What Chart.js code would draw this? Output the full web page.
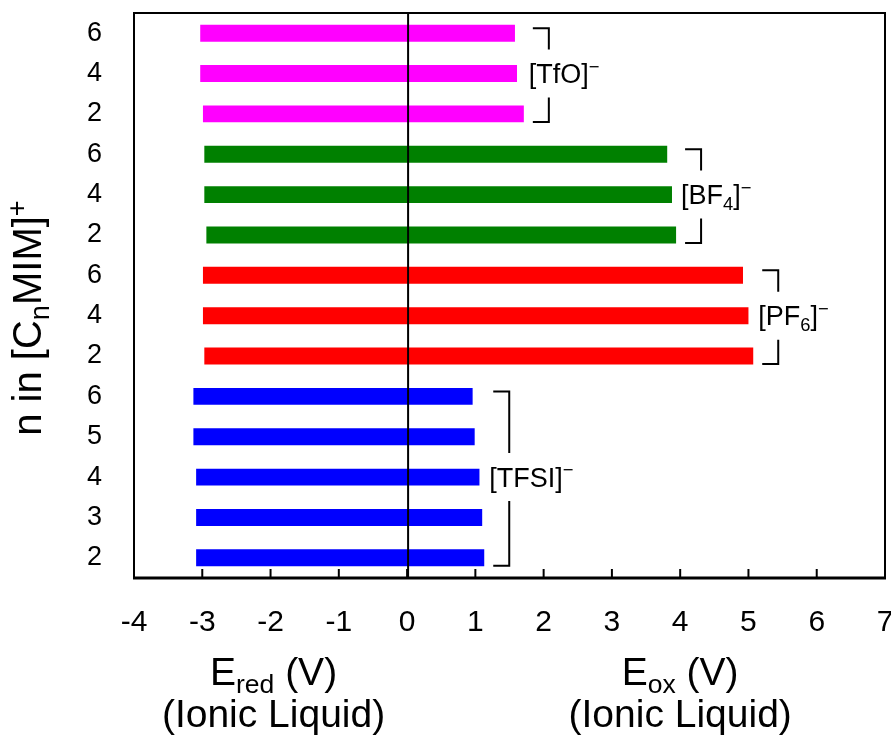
<!DOCTYPE html>
<html>
<head>
    <title>Electrochemical windows</title>
    <script src="https://cdn.jsdelivr.net/npm/chart.js"></script>
    <style>
        body {
            margin: 0;
            padding: 0;
            background: #ffffff;
        }
        #wrap {
            width: 891px;
            height: 738px;
        }
    </style>
</head>
<body>
    <div id="wrap"><canvas id="chart"></canvas></div>

    <script>
        // rows top to bottom
        const rowLabels = ['6', '4', '2', '6', '4', '2', '6', '4', '2', '6', '5', '4', '3', '2'];
        const eRed = [-3.03, -3.03, -2.99, -2.97, -2.97, -2.94, -2.99, -2.99, -2.97, -3.13, -3.13, -3.09, -3.09, -3.09];
        const eOx = [1.58, 1.61, 1.71, 3.81, 3.88, 3.94, 4.92, 5.00, 5.07, 0.96, 0.99, 1.06, 1.10, 1.13];

        const anionNames = ['TfO', 'BF4', 'PF6', 'TFSI'];
        const anionRows = [3, 3, 3, 5];
        const anionLabelParts = [
            [['[TfO]', 'n'], ['\u2212', 'sup']],
            [['[BF', 'n'], ['4', 'sub'], [']', 'n'], ['\u2212', 'sup']],
            [['[PF', 'n'], ['6', 'sub'], [']', 'n'], ['\u2212', 'sup']],
            [['[TFSI]', 'n'], ['\u2212', 'sup']]
        ];
        const xTickValues = [-4, -3, -2, -1, 0, 1, 2, 3, 4, 5, 6, 7];

        const anionColors = ['#ff00ff', '#008000', '#ff0000', '#0000ff'];
        const FONT = "'Liberation Sans', Arial, sans-serif";

        const rowGroup = [];
        anionRows.forEach((n, g) => { for (let i = 0; i < n; i++) rowGroup.push(g); });

        function drawRich(ctx, parts, x, y, size, align) {
            const spec = kind => {
                if (kind === 'sub') return { s: size * 0.68, dy: size * 0.2 };
                if (kind === 'sup') return { s: size * 0.68, dy: -size * 0.38 };
                return { s: size, dy: 0 };
            };
            let total = 0;
            parts.forEach(([t, k]) => {
                ctx.font = spec(k).s + 'px ' + FONT;
                total += ctx.measureText(t).width;
            });
            let cx = align === 'center' ? x - total / 2 : x;
            ctx.textAlign = 'left';
            ctx.textBaseline = 'alphabetic';
            parts.forEach(([t, k]) => {
                const sp = spec(k);
                ctx.font = sp.s + 'px ' + FONT;
                ctx.fillText(t, cx, y + sp.dy);
                cx += ctx.measureText(t).width;
            });
        }

        const decorations = {
            id: 'decorations',
            afterDatasetsDraw(chart) {
                const ctx = chart.ctx;
                const { left, right, top, bottom } = chart.chartArea;
                const x = chart.scales.x, y = chart.scales.y;
                ctx.save();
                ctx.strokeStyle = '#000';
                // zero line over the bars
                ctx.lineWidth = 2;
                const x0 = x.getPixelForValue(0) + 1;
                ctx.beginPath();
                ctx.moveTo(x0, top);
                ctx.lineTo(x0, bottom);
                ctx.stroke();
                // frame
                ctx.lineWidth = 2;
                ctx.strokeRect(left, top, right - left, bottom - top);
                ctx.lineWidth = 3;
                ctx.beginPath();
                ctx.moveTo(left - 1, bottom);
                ctx.lineTo(right + 1, bottom);
                ctx.stroke();
                // inside tick marks
                ctx.lineWidth = 2;
                xTickValues.forEach(v => {
                    const px = x.getPixelForValue(v);
                    ctx.beginPath();
                    ctx.moveTo(px, bottom);
                    ctx.lineTo(px, bottom - 9);
                    ctx.stroke();
                });
                // anion brackets
                let start = 0;
                anionRows.forEach((n, g) => {
                    const end = start + n - 1;
                    const maxOx = Math.max(...eOx.slice(start, end + 1));
                    const bx = x.getPixelForValue(maxOx) + 25;
                    const y1 = y.getPixelForValue(start) - 5;
                    const y2 = y.getPixelForValue(end) + 8;
                    const yc = (y.getPixelForValue(start) + y.getPixelForValue(end)) / 2;
                    ctx.lineWidth = 2;
                    ctx.beginPath();
                    ctx.moveTo(bx - 16, y1);
                    ctx.lineTo(bx, y1);
                    ctx.lineTo(bx, yc - 24);
                    ctx.moveTo(bx, yc + 24);
                    ctx.lineTo(bx, y2);
                    ctx.lineTo(bx - 16, y2);
                    ctx.stroke();
                    ctx.fillStyle = '#000';
                    drawRich(ctx, anionLabelParts[g], bx - 20, yc + 9.5, 27, 'left');
                    start = end + 1;
                });
                ctx.restore();
            },
            afterDraw(chart) {
                const ctx = chart.ctx;
                const x = chart.scales.x;
                ctx.save();
                ctx.fillStyle = '#000';
                // y title
                ctx.translate(41, 318);
                ctx.rotate(-Math.PI / 2);
                drawRich(ctx, [['n in [C', 'n'], ['n', 'sub'], ['MIM]', 'n'], ['+', 'sup']], 0, 0, 40, 'center');
                ctx.restore();
                ctx.save();
                ctx.fillStyle = '#000';
                const xr = x.getPixelForValue(-2) + 3, xo = x.getPixelForValue(4);
                drawRich(ctx, [['E', 'n'], ['red', 'sub'], [' (V)', 'n']], xr, 685, 39, 'center');
                drawRich(ctx, [['(Ionic Liquid)', 'n']], xr, 727, 39, 'center');
                drawRich(ctx, [['E', 'n'], ['ox', 'sub'], [' (V)', 'n']], xo, 685, 39, 'center');
                drawRich(ctx, [['(Ionic Liquid)', 'n']], xo, 727, 39, 'center');
                ctx.restore();
            }
        };

        const ctx = document.getElementById('chart').getContext('2d');
        new Chart(ctx, {
            type: 'bar',
            data: {
                labels: rowLabels,
                datasets: [{
                    data: eRed.map((r, i) => [r, eOx[i]]),
                    backgroundColor: rowGroup.map(g => anionColors[g]),
                    borderWidth: 0,
                    barPercentage: 0.42,
                    categoryPercentage: 1
                }]
            },
            options: {
                indexAxis: 'y',
                responsive: true,
                maintainAspectRatio: false,
                animation: false,
                layout: { padding: { top: 13, right: 6, left: 0, bottom: 0 } },
                plugins: {
                    legend: { display: false },
                    tooltip: { enabled: false }
                },
                scales: {
                    x: {
                        type: 'linear',
                        min: -4,
                        max: 7,
                        grid: { display: false, drawTicks: false },
                        border: { display: false },
                        ticks: {
                            stepSize: 1,
                            color: '#000',
                            padding: 27,
                            font: { family: FONT, size: 30 }
                        },
                        afterFit(scale) {
                            scale.height = 160;
                            scale.paddingLeft = 0;
                            scale.paddingRight = 0;
                        }
                    },
                    y: {
                        grid: { display: false, drawTicks: false },
                        border: { display: false },
                        ticks: {
                            color: '#000',
                            padding: 32,
                            font: { family: FONT, size: 27 }
                        },
                        afterFit(scale) {
                            scale.width = 134;
                            scale.paddingTop = 0;
                            scale.paddingBottom = 0;
                        }
                    }
                }
            },
            plugins: [decorations]
        });
    </script>
</body>
</html>
